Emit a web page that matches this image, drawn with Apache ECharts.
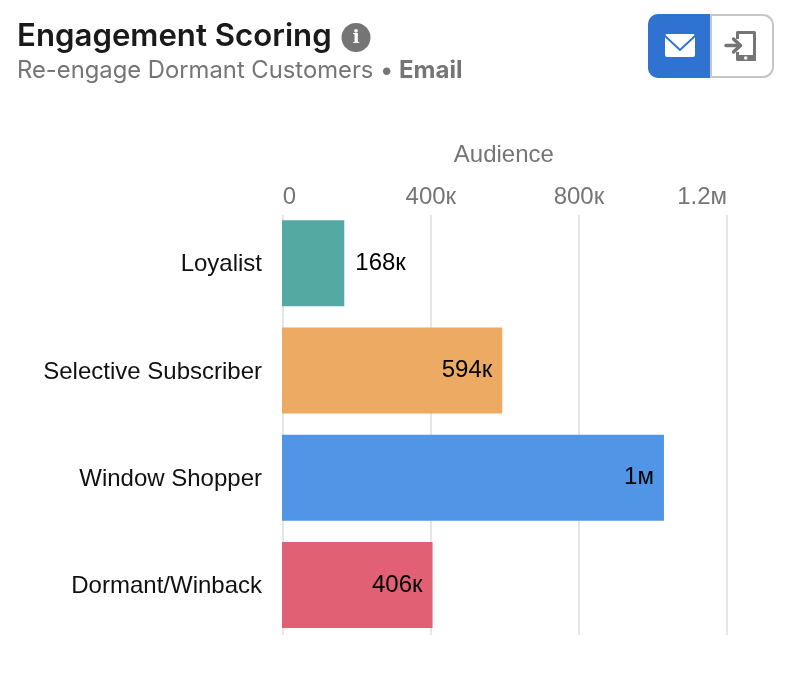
<!DOCTYPE html>
<html><head><meta charset="utf-8">
<style>html,body{margin:0;padding:0;background:#fff}#c{width:788px;height:696px}</style>
<script src="https://cdn.jsdelivr.net/npm/echarts@6/dist/echarts.min.js"></script>
</head><body><div id="c"></div>
<script>
const categories = ['Loyalist','Selective Subscriber','Window Shopper','Dormant/Winback'];
const audience = [168000,594000,1030000,406000];
const barLabels = ['168к','594к','1м','406к'];
const barColors = ['#54a9a3','#ecaa63','#5195e6','#e26073'];
const labelPositions = ['outside','insideRight','insideRight','insideRight'];
const axisMax = 1200000, axisStep = 400000;
const tickText = {0:'0',400000:'400к',800000:'800к',1200000:'1.2м'};
const titleText = 'Engagement Scoring';
const subtitleText = 'Re-engage Dormant Customers • ';
const subtitleBold = 'Email';

const sans = '"Liberation Sans", Helvetica, Arial, sans-serif';
const chart = echarts.init(document.getElementById('c'), null, {renderer:'canvas'});
chart.setOption({
  animation:false,
  backgroundColor:'#fff',
  grid:[
    {left:282,width:445,top:209.5,height:429,containLabel:false},
    {left:282.7,width:444.3,top:215,height:420,containLabel:false},
    {left:282,width:445,top:211.2,height:429,containLabel:false}
  ],
  xAxis:[
    {gridIndex:0,type:'value',min:0,max:axisMax,interval:axisStep,show:false},
    {gridIndex:1,type:'value',position:'top',min:0,max:axisMax,interval:axisStep,
     name:'Audience',nameLocation:'middle',nameGap:48,
     nameTextStyle:{color:'#757575',fontFamily:sans,fontSize:24,padding:[0,2,0,0]},
     axisLine:{show:false},axisTick:{show:false},
     splitLine:{show:true,lineStyle:{color:'#e0e0e0',width:1.6}},
     axisLabel:{margin:6,color:'#757575',fontFamily:sans,fontSize:24,
       alignMinLabel:'left',alignMaxLabel:'right',
       formatter:v=>tickText[v]}},
    {gridIndex:2,type:'value',min:0,max:axisMax,interval:axisStep,show:false}
  ],
  yAxis:[
    {gridIndex:0,type:'category',inverse:true,data:categories,show:false},
    {gridIndex:1,type:'category',inverse:true,data:categories,show:false},
    {gridIndex:2,type:'category',inverse:true,data:categories,
     axisLine:{show:false},axisTick:{show:false},
     axisLabel:{margin:20,color:'#111',fontFamily:sans,fontSize:24}}
  ],
  series:[{
    type:'bar',xAxisIndex:0,yAxisIndex:0,z:5,barWidth:86,
    data:audience.map((v,i)=>({value:v,
      itemStyle:{color:barColors[i]},
      label:{show:true,position:labelPositions[i]==='outside'?'right':'insideRight',
        distance:labelPositions[i]==='outside'?11:10,
        offset:[0,0],
        formatter:barLabels[i],color:'#000',fontFamily:sans,fontSize:24}}))
  }],
  graphic:[
    {type:'text',x:17,y:21,style:{text:titleText,fill:'#1a1a1a',font:'600 31.2px Inter, sans-serif'}},
    {type:'text',x:17,y:58.5,style:{text:subtitleText,fill:'#757575',font:'400 23.8px Inter, sans-serif'}},
    {type:'text',x:399,y:58.5,style:{text:subtitleBold,fill:'#757575',font:'700 24px Inter, sans-serif'}},
    {type:'circle',shape:{cx:356,cy:37.5,r:14.5},style:{fill:'#757575'}},
    {type:'text',x:356,y:38,style:{text:'i',fill:'#fff',font:'900 19px "DejaVu Serif", serif',align:'center',verticalAlign:'middle'}},
    {type:'rect',shape:{x:649,y:15,width:124,height:62,r:10},style:{fill:'#fff',stroke:'#c6c6c6',lineWidth:2}},
    {type:'line',shape:{x1:711,y1:15,x2:711,y2:77},style:{stroke:'#c6c6c6',lineWidth:2}},
    {type:'rect',shape:{x:648,y:14,width:62,height:64,r:[10,0,0,10]},style:{fill:'#2f72cf'}},
    {type:'rect',shape:{x:665,y:34,width:30,height:23,r:2},style:{fill:'#fff'}},
    {type:'polyline',shape:{points:[[664.5,35.5],[680,50],[695.5,35.5]]},style:{fill:null,stroke:'#2f72cf',lineWidth:2}},
    {type:'polyline',shape:{points:[[737.5,39],[737.5,32.5],[754.5,32.5],[754.5,59.5],[737.5,59.5],[737.5,52]]},style:{fill:null,stroke:'#757575',lineWidth:3,lineJoin:'round'}},
    {type:'rect',shape:{x:737,y:55,width:19,height:6,r:1},style:{fill:'#757575'}},
    {type:'line',shape:{x1:726,y1:45.5,x2:740,y2:45.5},style:{stroke:'#757575',lineWidth:3.4,lineCap:'round'}},
    {type:'polyline',shape:{points:[[733.5,39],[740.5,45.5],[733.5,52]]},style:{fill:null,stroke:'#757575',lineWidth:3.4,lineCap:'round',lineJoin:'round'}},
    {type:'circle',shape:{cx:745.7,cy:58,r:1.8},style:{fill:'#fff'},z:10}
  ]
});
</script></body></html>
